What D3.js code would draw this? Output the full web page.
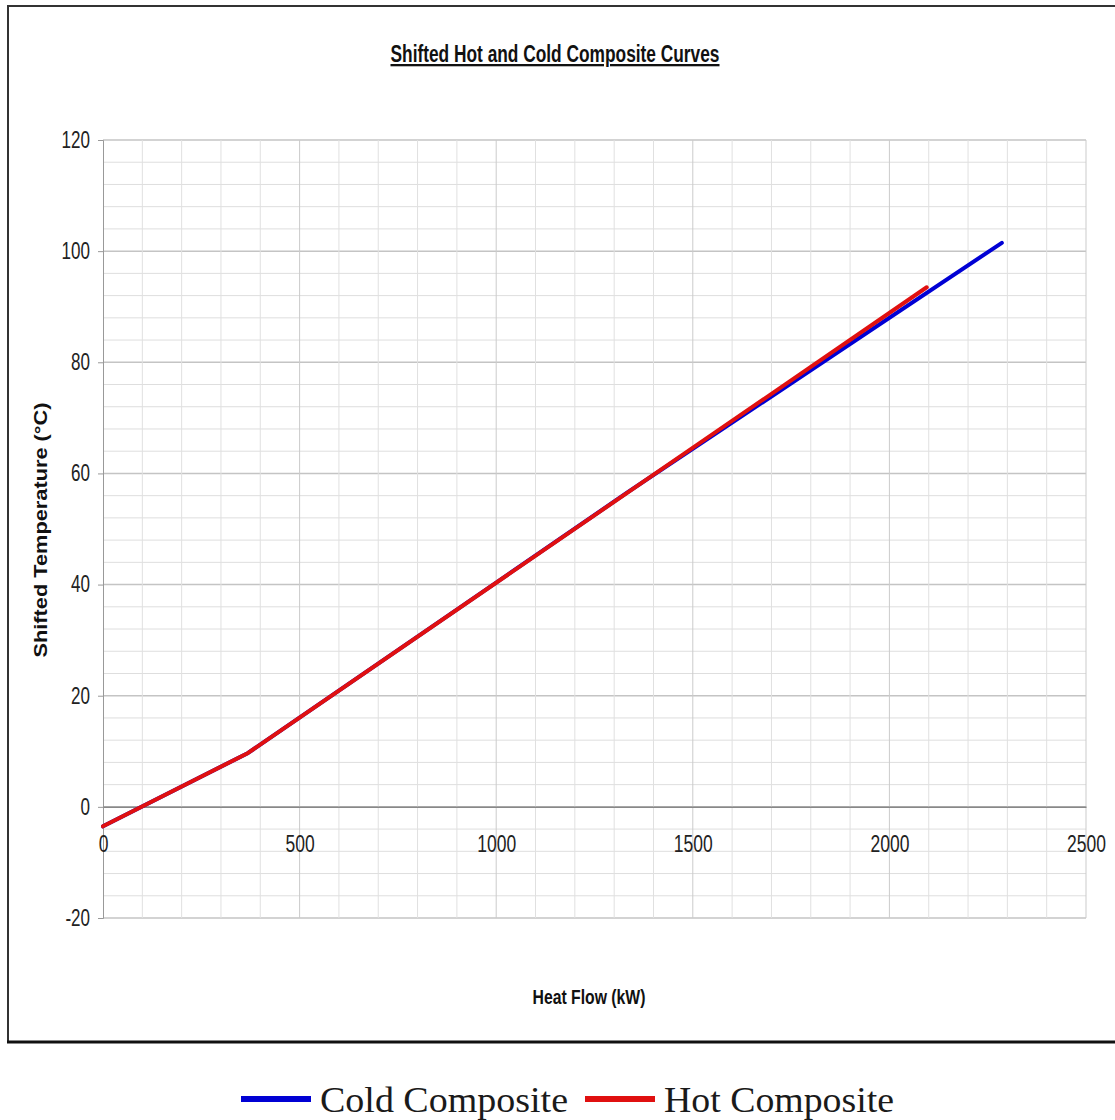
<!DOCTYPE html>
<html>
<head>
<meta charset="utf-8">
<script src="https://cdn.jsdelivr.net/npm/d3@7"></script>
<style>
  body { margin: 0; background: #fff; }
  text { font-family: "Liberation Sans", Arial, sans-serif; }
  text.legend-label { font-family: "Liberation Serif", "Times New Roman", serif; }
</style>
</head>
<body>
<svg id="chart" width="1115" height="1120"></svg>
<script>
// shifted composite curves (heat flow kW, shifted temperature °C)
const hotFlow = [0, 369, 2095];
const hotTemp = [-3.5, 9.7, 93.5];
const coldFlow = [0, 369, 1330, 2286];
const coldTemp = [-3.5, 9.7, 56.4, 101.5];

const xTicks = [0, 500, 1000, 1500, 2000, 2500];
const yTicks = [-20, 0, 20, 40, 60, 80, 100, 120];

const seriesNames = ["Cold Composite", "Hot Composite"];
const seriesColors = ["#0000d4", "#e01010"];

const margin = { top: 140, right: 29, bottom: 202, left: 103 };
const W = 1115, H = 1120;
const width = W - margin.left - margin.right;
const height = H - margin.top - margin.bottom;

// squeeze text horizontally (the original uses a narrow face)
function condense(sel, k) {
  sel.each(function () {
    const w = this.getComputedTextLength();
    d3.select(this).attr("textLength", w * k).attr("lengthAdjust", "spacingAndGlyphs");
  });
}

const svg = d3.select("#chart");

// outer frame (right side runs off the picture)
svg.append("path")
  .attr("d", "M1115,6H8V1042")
  .attr("fill", "none").attr("stroke", "#333").attr("stroke-width", 2);
svg.append("line")
  .attr("x1", 7).attr("x2", 1115).attr("y1", 1042).attr("y2", 1042)
  .attr("stroke", "#111").attr("stroke-width", 3);

const g = svg.append("g").attr("transform", `translate(${margin.left},${margin.top})`);

const x = d3.scaleLinear().domain([0, 2500]).range([0, width]);
const y = d3.scaleLinear().domain([-20, 120]).range([height, 0]);

// grid
g.append("g").selectAll("line")
  .data(d3.range(-20, 121, 4))
  .join("line")
  .attr("x1", 0).attr("x2", width)
  .attr("y1", d => y(d)).attr("y2", d => y(d))
  .attr("stroke", d => d % 20 === 0 ? "#c4c4c4" : "#dedede")
  .attr("stroke-width", d => d % 20 === 0 ? 1.5 : 1);

g.append("g").selectAll("line")
  .data(d3.range(100, 2501, 100))
  .join("line")
  .attr("x1", d => x(d)).attr("x2", d => x(d))
  .attr("y1", 0).attr("y2", height)
  .attr("stroke", d => d % 500 === 0 ? "#cbcbcb" : "#e0e0e0")
  .attr("stroke-width", 1);

// y axis
const yAxis = g.append("g")
  .call(d3.axisLeft(y).tickValues(yTicks).tickFormat(d => String(d)).tickSize(5).tickPadding(8));
yAxis.select(".domain").attr("stroke", "#999");
yAxis.selectAll(".tick line").attr("stroke", "#999");
yAxis.selectAll("text")
  .attr("font-size", 23).attr("fill", "#222")
  .call(condense, 0.74);

// x axis on the zero line
const xAxis = g.append("g")
  .attr("transform", `translate(0,${y(0)})`)
  .call(d3.axisBottom(x).tickValues(xTicks).tickFormat(d => String(d)).tickSize(0).tickPadding(29));
xAxis.select(".domain").attr("stroke", "#888").attr("stroke-width", 1.5);
xAxis.selectAll("text")
  .attr("font-size", 23).attr("fill", "#222")
  .call(condense, 0.76);

// curves
const line = d3.line().x(d => x(d[0])).y(d => y(d[1]));
const cold = coldFlow.map((v, i) => [v, coldTemp[i]]);
const hot = hotFlow.map((v, i) => [v, hotTemp[i]]);

g.append("path").datum(cold)
  .attr("d", line).attr("fill", "none")
  .attr("stroke", seriesColors[0]).attr("stroke-width", 4)
  .attr("stroke-linecap", "round").attr("stroke-linejoin", "round");
g.append("path").datum(hot)
  .attr("d", line).attr("fill", "none")
  .attr("stroke", seriesColors[1]).attr("stroke-width", 4)
  .attr("stroke-linecap", "round").attr("stroke-linejoin", "round");

// title
svg.append("text")
  .attr("x", 555).attr("y", 62)
  .attr("text-anchor", "middle")
  .attr("font-size", 23).attr("font-weight", "bold")
  .attr("text-decoration", "underline")
  .attr("fill", "#111")
  .attr("textLength", 329).attr("lengthAdjust", "spacingAndGlyphs")
  .text("Shifted Hot and Cold Composite Curves");

// axis titles
svg.append("text")
  .attr("x", 589).attr("y", 1004)
  .attr("text-anchor", "middle")
  .attr("font-size", 20).attr("font-weight", "bold")
  .attr("fill", "#111")
  .attr("textLength", 113).attr("lengthAdjust", "spacingAndGlyphs")
  .text("Heat Flow (kW)");

svg.append("text")
  .attr("transform", "translate(47,530) rotate(-90)")
  .attr("text-anchor", "middle")
  .attr("font-size", 18).attr("font-weight", "bold")
  .attr("fill", "#111")
  .attr("textLength", 255).attr("lengthAdjust", "spacingAndGlyphs")
  .text("Shifted Temperature (°C)");

// legend
const legendX = [241, 585];
const legendW = [248, 230];
const legend = svg.append("g").selectAll("g")
  .data(seriesNames)
  .join("g")
  .attr("transform", (d, i) => `translate(${legendX[i]},1099)`);
legend.append("line")
  .attr("x1", 0).attr("x2", 70).attr("y1", 0).attr("y2", 0)
  .attr("stroke", (d, i) => seriesColors[i]).attr("stroke-width", 6);
legend.append("text")
  .attr("class", "legend-label")
  .attr("x", 79).attr("y", 13)
  .attr("font-size", 36)
  .attr("fill", "#1a1a1a")
  .attr("textLength", (d, i) => legendW[i]).attr("lengthAdjust", "spacingAndGlyphs")
  .text(d => d);
</script>
</body>
</html>
